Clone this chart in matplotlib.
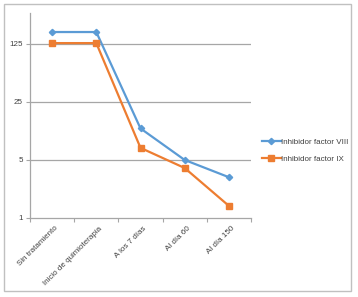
import numpy as np
import matplotlib.pyplot as plt
from matplotlib.patches import Rectangle
from matplotlib.ticker import FixedLocator, NullFormatter

plt.rcParams["font.family"] = ["Liberation Sans", "DejaVu Sans"]

categories = ["Sin tratamiento", "Inicio de quimioterapia", "A los 7 días", "Al día 60", "Al día 150"]
factor_viii = [174, 174, 12, 5, 3.1]
factor_ix = [128, 128, 7, 4, 1.4]
yticks = [1, 5, 25, 125]

BLUE = "#5b9bd5"
ORANGE = "#ed7d31"
GRAY = "#a6a6a6"
TXT = "#404040"
FS = 5.8

fig = plt.figure(figsize=(3.58, 2.97), dpi=100)
ax = fig.add_axes([30 / 358, 79 / 297, 221 / 358, 205 / 297])

x = np.arange(len(categories))
ax.plot(x, factor_viii, color=BLUE, lw=1.6, marker="D", ms=3.2, label="Inhibidor factor VIII", zorder=3)
ax.plot(x, factor_ix, color=ORANGE, lw=1.6, marker="s", ms=4.2, label="Inhibidor factor IX", zorder=3)

ax.set_yscale("log")
ax.set_ylim(1, 295)
ax.set_xlim(-0.5, len(categories) - 0.5)
ax.yaxis.set_major_locator(FixedLocator(yticks))
ax.yaxis.set_minor_locator(FixedLocator([]))
ax.set_yticklabels([str(t) for t in yticks])
ax.yaxis.set_minor_formatter(NullFormatter())
for t in yticks[1:]:
    ax.axhline(t, color=GRAY, lw=0.9, zorder=1)

ax.set_xticks(x + 0.05)
ax.set_xticklabels(categories, rotation=45, ha="right", rotation_mode="anchor", fontsize=FS, color=TXT)
ax.tick_params(axis="x", which="major", length=0, pad=5)
ax.set_xticks(np.arange(-0.5, len(categories)), minor=True)
ax.tick_params(axis="x", which="minor", length=3, color=GRAY, width=0.8)
ax.tick_params(axis="y", length=3, color=GRAY, width=0.8, labelsize=FS, labelcolor=TXT, pad=2)

for s in ["top", "right"]:
    ax.spines[s].set_visible(False)
for s in ["left", "bottom"]:
    ax.spines[s].set_color(GRAY)
    ax.spines[s].set_linewidth(0.9)

ax.legend(loc="center left", bbox_to_anchor=(1.05, 0.33), frameon=False, fontsize=FS,
          handlelength=2.3, handletextpad=0.1, labelspacing=1.2, labelcolor=TXT,
          borderpad=0, borderaxespad=0)

fig.patches.append(Rectangle((4 / 358, 6 / 297), 347 / 358, 287 / 297, transform=fig.transFigure,
                             fill=False, edgecolor="#c0c0c0", lw=1))

fig.savefig("out.png", dpi=100)
